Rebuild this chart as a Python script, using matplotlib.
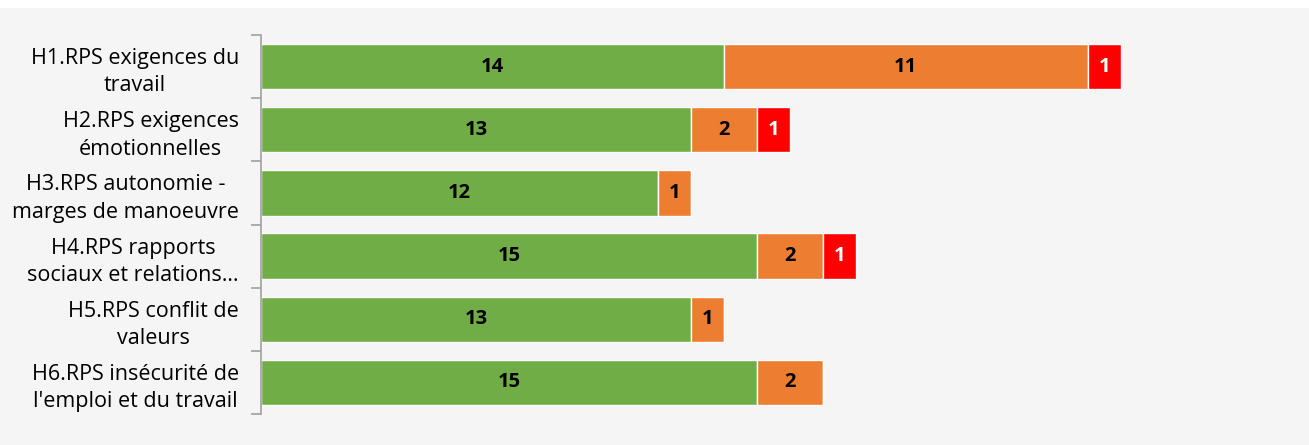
import numpy as np
import matplotlib.pyplot as plt
from matplotlib.patches import Rectangle

# categories (top to bottom) and counts per level
categories = ['H1.RPS exigences du\ntravail',
              'H2.RPS exigences\némotionnelles',
              'H3.RPS autonomie -\nmarges de manoeuvre',
              'H4.RPS rapports\nsociaux et relations…',
              'H5.RPS conflit de\nvaleurs',
              "H6.RPS insécurité de\nl'emploi et du travail"]
green = [14, 13, 12, 15, 13, 15]
orange = [11, 2, 1, 2, 1, 2]
red = [1, 1, 0, 1, 0, 0]

plt.rcParams['font.family'] = ['Open Sans', 'DejaVu Sans']

fig = plt.figure(figsize=(13.09, 4.45), dpi=100, facecolor='#f5f5f5')
# white strip at the top (cropped from the original page)
fig.patches.append(Rectangle((0, 1 - 8 / 445), 1, 8 / 445, transform=fig.transFigure,
                             facecolor='white', edgecolor='none', zorder=0))

ax = fig.add_axes([261 / 1309, 1 - 414 / 445, 1025 / 1309, 379 / 445])
ax.set_facecolor('#f5f5f5')

y = np.arange(len(categories))
series = [(green, '#70AD47', 'black'), (orange, '#ED7D31', 'black'), (red, '#FF0000', 'white')]
left = np.zeros(len(categories))
for vals, col, tcol in series:
    vals = np.array(vals)
    bars = ax.barh(y, vals, left=left, height=0.72, color=col, edgecolor='white', linewidth=1)
    for b, v in zip(bars, vals):
        if v > 0:
            ax.text(b.get_x() + b.get_width() / 2, b.get_y() + b.get_height() / 2, str(v),
                    ha='center', va='center', fontsize=14.5, fontweight='bold', color=tcol)
    left += vals

ax.set_xlim(0, 31)
ax.set_ylim(len(categories) - 0.5, -0.5)
ax.set_xticks([])
ax.set_yticks(y)
ax.set_yticklabels(categories, fontsize=15.5, linespacing=1.4, multialignment='center')
ax.set_yticks(np.arange(-0.5, len(categories)), minor=True)
ax.tick_params(axis='y', which='major', length=0, pad=16)
ax.tick_params(axis='y', which='minor', length=7, color='#a0a0a0', width=1.2)
for s in ['top', 'right', 'bottom']:
    ax.spines[s].set_visible(False)
ax.spines['left'].set_color('#a0a0a0')
ax.spines['left'].set_linewidth(1.2)

fig.savefig('out.png', dpi=100, facecolor=fig.get_facecolor())
